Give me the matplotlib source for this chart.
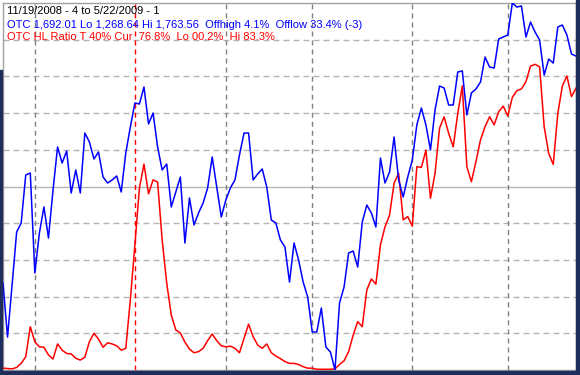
import pandas as pd
import matplotlib
matplotlib.use("Agg")
import matplotlib.pyplot as plt
from matplotlib.patches import Rectangle

# trading days 11/19/2008 .. 5/22/2009 (NYSE holidays removed)
holidays = ["2008-11-27", "2008-12-25", "2009-01-01", "2009-01-19", "2009-02-16", "2009-04-10"]
dates = pd.bdate_range("2008-11-19", "2009-05-22").drop(pd.to_datetime(holidays))

# OTC close (Nasdaq composite)
otc = [1385.9, 1313.1, 1383.3, 1454.7, 1466.9, 1531.6, 1534.3, 1399.4, 1453.4, 1488.5,
       1446.6, 1511.4, 1569.4, 1547.8, 1564.0, 1507.3, 1538.4, 1507.3, 1588.2, 1576.1,
       1553.2, 1562.6, 1528.9, 1520.8, 1524.9, 1530.3, 1508.7, 1561.3, 1596.3, 1628.7,
       1627.4, 1650.3, 1600.4, 1615.2, 1569.4, 1538.4, 1546.4, 1488.5, 1508.7, 1528.9,
       1439.9, 1500.6, 1464.2, 1480.4, 1493.8, 1514.1, 1555.9, 1515.4, 1475.0, 1497.9,
       1514.1, 1524.9, 1558.6, 1588.2, 1588.2, 1524.9, 1533.0, 1539.7, 1515.4, 1470.9,
       1466.9, 1444.0, 1434.5, 1387.3, 1439.9, 1417.0, 1387.3, 1367.1, 1319.9, 1319.9,
       1352.2, 1299.7, 1292.9, 1268.64, 1359.0, 1380.6, 1426.4, 1429.1, 1407.5, 1468.2,
       1491.1, 1480.4, 1461.5, 1554.5, 1520.8, 1535.6, 1582.8, 1524.9, 1501.9, 1528.9,
       1551.8, 1599.0, 1622.0, 1599.0, 1565.3, 1619.2, 1651.6, 1648.9, 1626.0, 1626.0,
       1670.5, 1671.9, 1612.5, 1642.2, 1647.6, 1657.0, 1690.7, 1677.2, 1675.9, 1715.0,
       1717.7, 1720.4, 1763.56, 1758.1, 1759.5, 1717.7, 1737.9, 1724.4, 1713.6, 1666.4,
       1688.0, 1682.6, 1731.2, 1733.9, 1720.4, 1694.8, 1692.01]

# OTC high/low ratio, percent
hl_ratio = [0.5, 0.4, 0.3, 0.7, 1.8, 3.6, 11.8, 7.7, 6.3, 6.2,
            4.1, 3.0, 7.1, 5.4, 4.5, 4.4, 3.2, 2.7, 3.5, 7.7,
            10.0, 8.4, 6.2, 7.4, 7.1, 6.6, 5.4, 5.9, 19.1, 34.1,
            49.6, 56.1, 48.0, 51.8, 51.2, 35.4, 23.7, 15.0, 10.9, 10.1,
            7.6, 5.7, 4.7, 5.0, 5.9, 8.0, 9.8, 8.0, 6.6, 6.3,
            6.5, 5.9, 4.7, 8.6, 12.5, 9.1, 6.8, 5.9, 7.1, 4.7,
            3.8, 3.1, 2.3, 1.8, 1.8, 1.5, 0.9, 0.5, 0.5, 0.2,
            0.2, 0.2, 0.2, 0.3, 1.5, 2.5, 5.0, 9.5, 13.2, 11.8,
            21.8, 24.8, 23.4, 34.1, 39.0, 42.2, 50.9, 53.6, 40.9, 41.8,
            39.2, 55.4, 55.2, 59.9, 46.8, 53.6, 65.9, 69.0, 64.5, 60.8,
            69.9, 77.4, 55.4, 51.3, 56.8, 62.7, 66.3, 69.0, 66.8, 70.4,
            71.9, 69.2, 74.3, 76.1, 76.6, 78.6, 82.8, 83.3, 82.6, 66.3,
            59.0, 56.0, 69.9, 77.4, 80.1, 74.5, 76.8]

x = list(range(len(dates)))
month_starts = [i for i in range(1, len(dates)) if dates[i].month != dates[i - 1].month]

W, H = 580, 375
fig = plt.figure(figsize=(W / 100, H / 100), dpi=100, facecolor="white")

# plot area in pixels: left 3, right 576, top 3, bottom 370
ax = fig.add_axes([3 / W, 5 / H, 573 / W, 367 / H])
ax.set_xlim(0, len(x) - 1)
ax.set_ylim(0, 100)
for s in ax.spines.values():
    s.set_color("#a0a0a0")
    s.set_linewidth(1)
ax.set_xticks([])
ax.set_yticks([])

# horizontal grid every 10%
for lvl in range(10, 100, 10):
    if lvl == 50:
        ax.axhline(lvl, color="#b4b4b4", lw=1, zorder=1)
    else:
        ax.axhline(lvl, color="#b4b4b4", lw=1, ls=(0, (4.3, 2.9)), zorder=1)

# month separators, year change in red
for i in month_starts:
    c = "#ff0000" if dates[i].year != dates[i - 1].year else "#808080"
    ax.axvline(i, color=c, lw=1, ls=(0, (3.6, 2.9)), zorder=1)

ax.plot(x, hl_ratio, color="#ff0000", lw=1.1, zorder=3)

ax2 = ax.twinx()
ax2.set_ylim(min(otc), max(otc))
ax2.set_yticks([])
ax2.axis("off")
ax2.plot(x, otc, color="#0000ff", lw=1.1, zorder=3)

# window frame
frame = "#1e2d5c"
fig.patches.append(Rectangle((0, 0), 1, 4 / H, transform=fig.transFigure, color=frame, zorder=10))
fig.patches.append(Rectangle((576 / W, 0), 4 / W, 1, transform=fig.transFigure, color=frame, zorder=10))
fig.patches.append(Rectangle((0, 0), 2 / W, 1 - 70 / H, transform=fig.transFigure, color=frame, zorder=10))

# header text
cur, lo, hi = otc[-1], min(otc), max(otc)
line1 = "11/19/2008 - 4 to 5/22/2009 - 1"
line2 = (f"OTC {cur:,.2f} Lo {lo:,.2f} Hi {hi:,.2f}  Offhigh {(1 - cur / hi) * 100:.1f}%  "
         f"Offlow {(cur / lo - 1) * 100:.1f}% (-3)")
line3 = (f"OTC HL Ratio T 40% Cur  {hl_ratio[-1]:04.1f}%  Lo {min(hl_ratio):04.1f}%  "
         f"Hi {max(hl_ratio):04.1f}%")

for txt, col, base in [(line1, "black", 14.5), (line2, "#0000ff", 27.5), (line3, "#ff0000", 40.5)]:
    fig.text(7 / W, 1 - base / H, txt, color=col, fontsize=8, family="Liberation Sans",
             va="baseline", ha="left")

fig.savefig("out.png", dpi=100, facecolor="white")
